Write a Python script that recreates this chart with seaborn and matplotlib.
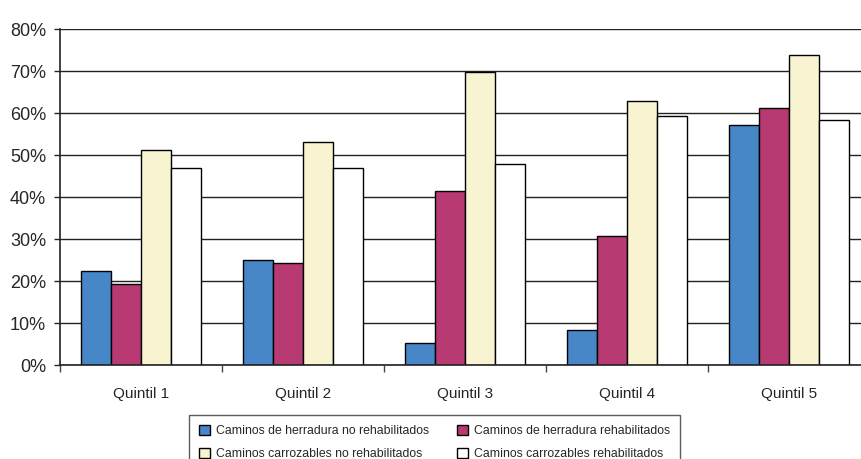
import numpy as np
import pandas as pd
import matplotlib
matplotlib.use("Agg")
import matplotlib.pyplot as plt
import seaborn as sns
from matplotlib.ticker import PercentFormatter

quintiles = ["Quintil 1", "Quintil 2", "Quintil 3", "Quintil 4", "Quintil 5"]
series = [
    "Caminos de herradura no rehabilitados",
    "Caminos de herradura rehabilitados",
    "Caminos carrozables no rehabilitados",
    "Caminos carrozables rehabilitados",
]
herradura_no = [22.3, 25.0, 5.3, 8.4, 57.1]
herradura_si = [19.4, 24.4, 41.4, 30.6, 61.2]
carrozable_no = [51.3, 53.1, 69.7, 62.8, 73.9]
carrozable_si = [47.0, 46.9, 47.9, 59.2, 58.3]
colors = ["#4887C7", "#B83A72", "#F8F3D0", "#FFFFFF"]

rows = []
for name, vals in zip(series, [herradura_no, herradura_si, carrozable_no, carrozable_si]):
    for q, v in zip(quintiles, vals):
        rows.append({"Quintil": q, "Serie": name, "Valor": v})
df = pd.DataFrame(rows)

sns.set_style("white")
plt.rcParams["font.family"] = ["Liberation Sans", "DejaVu Sans"]

fig = plt.figure(figsize=(8.61, 4.59), dpi=100)
ax = fig.add_axes([60 / 861, 94 / 459, 810 / 861, 336 / 459])

sns.barplot(data=df, x="Quintil", y="Valor", hue="Serie", order=quintiles,
            hue_order=series, palette=colors, width=0.735, edgecolor="black",
            linewidth=1, saturation=1, ax=ax, legend=True)

ax.set_ylim(0, 80)
ax.set_xlim(-0.5, 4.5)
ax.set_yticks(np.arange(0, 81, 10))
ax.yaxis.set_major_formatter(PercentFormatter(decimals=0))
ax.yaxis.grid(True, color="#222222", linewidth=1)
ax.set_axisbelow(True)

# category boundaries get the tick marks, centres get the labels
ax.set_xticks(np.arange(-0.5, 5, 1))
ax.set_xticklabels([])
ax.set_xticks(np.arange(5), minor=True)
ax.set_xticklabels(quintiles, minor=True, fontsize=11)
ax.tick_params(axis="x", which="major", length=5, width=1, color="#444444", direction="out", bottom=True)
ax.tick_params(axis="x", which="minor", length=0, pad=16)
ax.tick_params(axis="y", length=4, width=1, labelsize=13, direction="out", left=True, pad=6)

for side in ["top", "right"]:
    ax.spines[side].set_visible(False)
for side in ["left", "bottom"]:
    ax.spines[side].set_color("#222222")
    ax.spines[side].set_linewidth(1.2)

ax.set_xlabel("")
ax.set_ylabel("")

handles, labels = ax.get_legend_handles_labels()
ax.legend_.remove()
order = [0, 2, 1, 3]  # row-wise order in a 2-column legend
leg = fig.legend([handles[i] for i in order], [labels[i] for i in order],
                 ncol=2, loc="upper left", borderaxespad=0,
                 bbox_to_anchor=(189 / 861, 1 - 415 / 459), fontsize=8.8,
                 frameon=True, fancybox=False, edgecolor="#333333",
                 handlelength=0.95, handleheight=0.95, handletextpad=0.5,
                 columnspacing=2.2, labelspacing=0.85, borderpad=0.8)
leg.get_frame().set_linewidth(1)

fig.savefig("out.png", dpi=100)
